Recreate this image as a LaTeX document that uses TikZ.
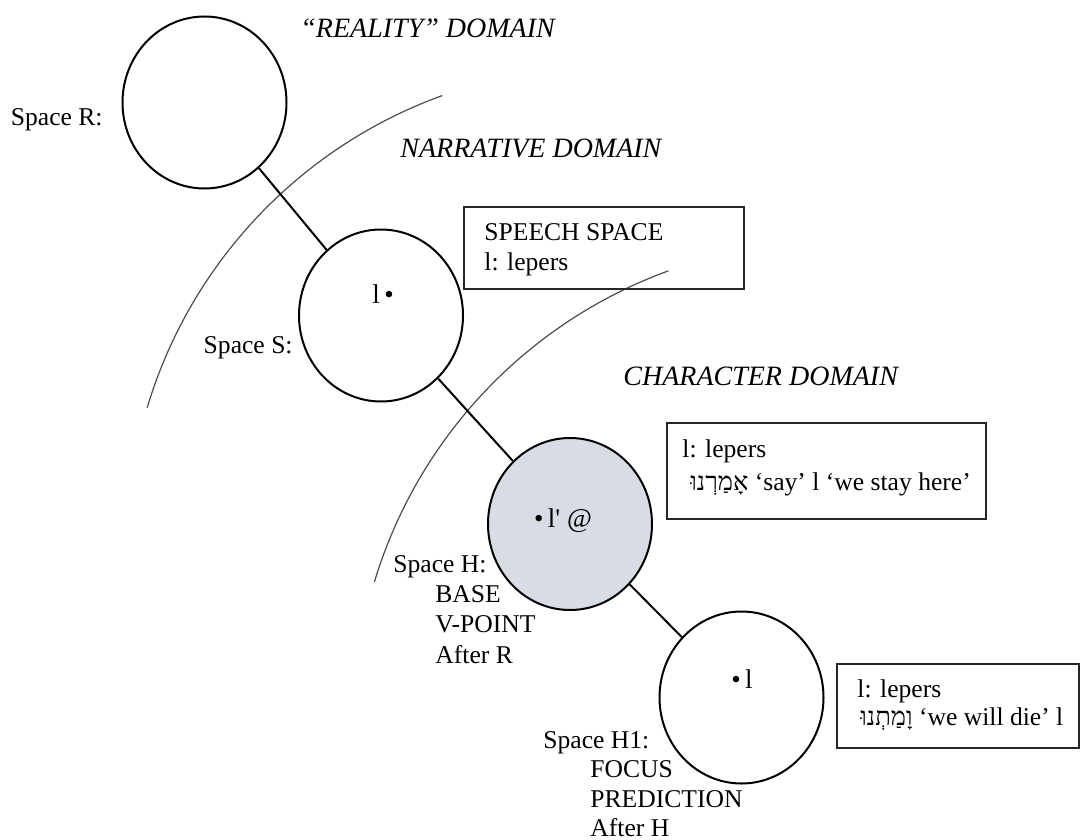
\documentclass[tikz,border=0pt]{standalone}
\usepackage{fontspec}
\setmainfont{Liberation Serif}
\newfontfamily\hebfont[Script=Hebrew]{Liberation Serif}
\TeXXeTstate=1
\usetikzlibrary{shapes.geometric}
\definecolor{basefill}{RGB}{216,220,229}
\tikzset{
  mentalspace/.style={ellipse, draw=black, line width=1pt, minimum width=82pt,
    minimum height=86pt, inner sep=0pt},
  link/.style={line width=1pt},
  boundary/.style={line width=0.6pt, draw=black!70},
  domainlabel/.style={font=\fontsize{14}{16}\selectfont\itshape, inner sep=0pt, anchor=base west},
  txt/.style={font=\fontsize{12.8}{15}\selectfont, inner sep=0pt, anchor=base west},
  txtright/.style={txt, anchor=base east},
  spacetext/.style={font=\fontsize{13.5}{15}\selectfont, inner sep=0pt, anchor=base},
  infobox/.style={draw=black!85, line width=0.75pt, inner sep=0pt, anchor=north west},
}
\begin{document}
\begin{tikzpicture}[x=0.5pt, y=-0.5pt]
  \useasboundingbox (0,0) rectangle (1081,840);

  % domain boundaries
  \coordinate (c1) at (605,545);
  \coordinate (c2) at (832,720);
  \draw[boundary] (c1) ++(109.9:239pt) arc[start angle=109.9, end angle=163.3, radius=239pt];
  \draw[boundary] (c2) ++(110.0:239pt) arc[start angle=110.0, end angle=163.2, radius=239pt];

  % mental spaces
  \node[mentalspace] (R) at (204.5,102.5) {};
  \node[mentalspace] (S) at (381,315.5) {};
  \node[mentalspace, fill=basefill] (H) at (570,524) {};
  \node[mentalspace] (H1) at (741.5,697.5) {};

  \draw[link] (R) -- (S);
  \draw[link] (S) -- (H);
  \draw[link] (H) -- (H1);

  % contents of the spaces
  \node[spacetext] (Sl) at (383,303) {l\,•};
  \node[spacetext] (Hl) at (563,527) {•\,l\textquotesingle\ @};
  \node[spacetext] (H1l) at (742,688) {•\,l};

  % domain labels
  \node[domainlabel] (realdom) at (300,38) {“REALITY” DOMAIN};
  \node[domainlabel] (narrdom) at (400,157) {NARRATIVE DOMAIN};
  \node[domainlabel] (chardom) at (623,385) {CHARACTER DOMAIN};

  % space labels
  \node[txtright] (Rlab) at (103,126) {Space R:};
  \node[txtright] (Slab) at (293,353) {Space S:};
  \node[txt] (Hlab) at (393,572) {Space H:};
  \node[txt] (Hlab1) at (435,602) {BASE};
  \node[txt] (Hlab2) at (435,632) {V-POINT};
  \node[txt] (Hlab3) at (435,663) {After R};
  \node[txt] (H1lab) at (543,748) {Space H1:};
  \node[txt] (H1lab1) at (590,777) {FOCUS};
  \node[txt] (H1lab2) at (590,807) {PREDICTION};
  \node[txt] (H1lab3) at (590,836) {After H};

  % information boxes
  \node[infobox, minimum width=140pt, minimum height=41pt] (speechbox) at (463,206) {};
  \node[txt] (speech1) at (484,240) {SPEECH SPACE};
  \node[txt] (speech2) at (484,270) {l: lepers};

  \node[infobox, minimum width=159.5pt, minimum height=48pt] (saybox) at (666,422) {};
  \node[txt] (say1) at (682,457) {l: lepers};
  \node[txt] (say2) at (690,490) {{\hebfont\beginR אָמַרְנוּ\endR} ‘say’ l ‘we stay here’};

  \node[infobox, minimum width=121pt, minimum height=42pt] (diebox) at (836,663) {};
  \node[txt] (die1) at (857,697) {l: lepers};
  \node[txt] (die2) at (860,725) {{\hebfont\beginR וָמַתְנוּ\endR} ‘we will die’ l};
\end{tikzpicture}
\end{document}
